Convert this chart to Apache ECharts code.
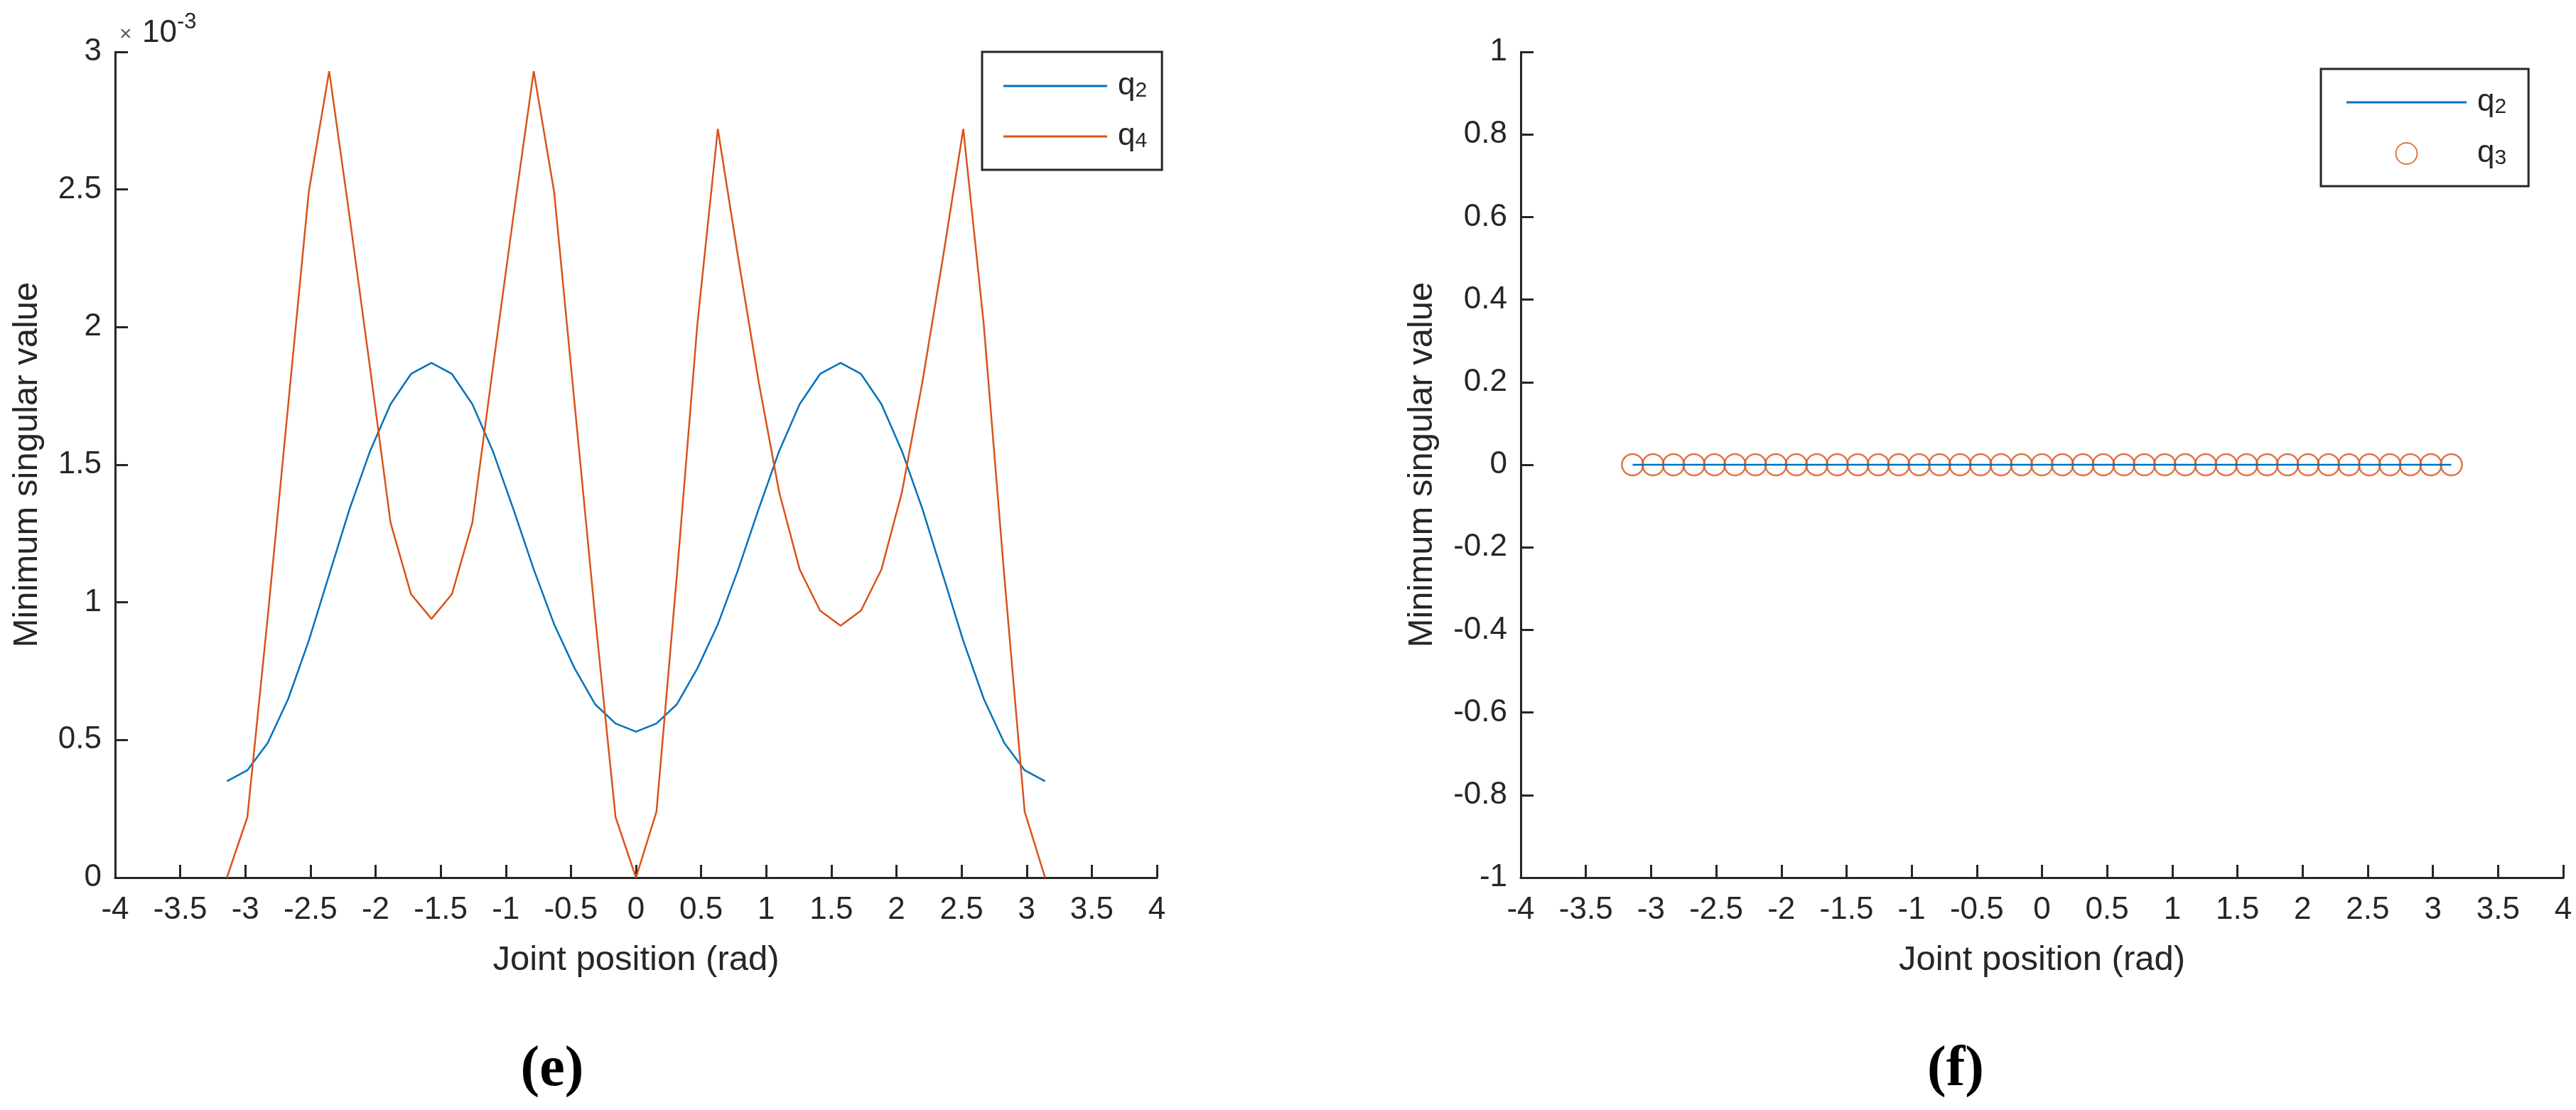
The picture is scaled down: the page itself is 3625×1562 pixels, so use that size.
<!DOCTYPE html>
<html>
<head>
<meta charset="utf-8">
<script src="https://cdn.jsdelivr.net/npm/echarts@6/dist/echarts.min.js"></script>
<style>
  html, body { margin: 0; padding: 0; background: #fff; }
  #chart { width: 3625px; height: 1562px; }
</style>
</head>
<body>
<div id="chart"></div>
<script>
// joint position samples (rad), -pi .. pi, 41 points
const jointPos = [
  -3.1416, -2.9845, -2.8274, -2.6704, -2.5133, -2.3562, -2.1991, -2.0420, -1.8850, -1.7279,
  -1.5708, -1.4137, -1.2566, -1.0996, -0.9425, -0.7854, -0.6283, -0.4712, -0.3142, -0.1571,
  0,
  0.1571, 0.3142, 0.4712, 0.6283, 0.7854, 0.9425, 1.0996, 1.2566, 1.4137, 1.5708,
  1.7279, 1.8850, 2.0420, 2.1991, 2.3562, 2.5133, 2.6704, 2.8274, 2.9845, 3.1416
];

// panel (e): minimum singular value, in units of 1e-3
const q2Sv = [
  0.35, 0.39, 0.49, 0.65, 0.86, 1.10, 1.34, 1.55, 1.72, 1.83,
  1.87, 1.83, 1.72, 1.55, 1.34, 1.12, 0.92, 0.76, 0.63, 0.56,
  0.53,
  0.56, 0.63, 0.76, 0.92, 1.12, 1.34, 1.55, 1.72, 1.83, 1.87,
  1.83, 1.72, 1.55, 1.34, 1.10, 0.86, 0.65, 0.49, 0.39, 0.35
];
const q4Sv = [
  0, 0.22, 0.95, 1.72, 2.49, 2.93, 2.40, 1.85, 1.29, 1.03,
  0.94, 1.03, 1.29, 1.85, 2.40, 2.93, 2.49, 1.72, 0.95, 0.22,
  0,
  0.24, 1.10, 2.01, 2.72, 2.25, 1.80, 1.40, 1.12, 0.97, 0.915,
  0.97, 1.12, 1.40, 1.80, 2.25, 2.72, 2.01, 1.10, 0.24, 0
];

// panel (f): both joints give zero everywhere
const q2SvF = [
  0, 0, 0, 0, 0, 0, 0, 0, 0, 0,
  0, 0, 0, 0, 0, 0, 0, 0, 0, 0,
  0,
  0, 0, 0, 0, 0, 0, 0, 0, 0, 0,
  0, 0, 0, 0, 0, 0, 0, 0, 0, 0
];
const q3SvF = [
  0, 0, 0, 0, 0, 0, 0, 0, 0, 0,
  0, 0, 0, 0, 0, 0, 0, 0, 0, 0,
  0,
  0, 0, 0, 0, 0, 0, 0, 0, 0, 0,
  0, 0, 0, 0, 0, 0, 0, 0, 0, 0
];

const BLUE = "#0072BD";
const ORANGE = "#D95319";
const INK = "#262626";
const FONT = "Liberation Sans, Arial, Helvetica, sans-serif";
const SERIF = "Liberation Serif, Times New Roman, serif";
// flat bar used as the legend icon for plain lines
const LINE_ICON = "path://M0,0 L146,0 L146,3 L0,3 Z";

const pairs = (xs, ys) => xs.map((x, i) => [x, ys[i]]);

const xAxisCommon = {
  type: "value",
  min: -4,
  max: 4,
  interval: 0.5,
  name: "Joint position (rad)",
  nameLocation: "middle",
  nameGap: 92,
  nameTextStyle: { color: INK, fontFamily: FONT, fontSize: 49 },
  axisLine: { onZero: false, lineStyle: { color: INK, width: 3 } },
  axisTick: { inside: true, length: 18, lineStyle: { color: INK, width: 3 } },
  axisLabel: { color: INK, fontFamily: FONT, fontSize: 44, margin: 24 },
  splitLine: { show: false },
};

const yAxisCommon = {
  type: "value",
  name: "Minimum singular value",
  nameLocation: "middle",
  nameRotate: 90,
  nameTextStyle: { color: INK, fontFamily: FONT, fontSize: 49 },
  axisLine: { show: true, onZero: false, lineStyle: { color: INK, width: 3 } },
  axisTick: { show: true, inside: true, length: 18, lineStyle: { color: INK, width: 3 } },
  axisLabel: { color: INK, fontFamily: FONT, fontSize: 44, margin: 19 },
  splitLine: { show: false },
};

const legendCommon = {
  orient: "vertical",
  itemWidth: 146,
  itemHeight: 30,
  backgroundColor: "#fff",
  borderColor: INK,
  borderWidth: 3,
  borderRadius: 0,
  selectedMode: false,
  formatter: (name) => "{q|q}{s|" + name.slice(1) + "}",
  textStyle: {
    rich: {
      q: { fontFamily: FONT, fontSize: 44, color: INK, padding: [0, 0, 0, 10], verticalAlign: "top", lineHeight: 44 },
      s: { fontFamily: FONT, fontSize: 30, color: INK, verticalAlign: "bottom", lineHeight: 30 },
    },
  },
};

const chart = echarts.init(document.getElementById("chart"), null, { renderer: "canvas" });

const option = {
  animation: false,
  backgroundColor: "#fff",
  grid: [
    { left: 162, top: 73, width: 1466, height: 1162 },
    { left: 2140, top: 73, width: 1467, height: 1162 },
  ],
  xAxis: [
    Object.assign({}, xAxisCommon, { gridIndex: 0 }),
    Object.assign({}, xAxisCommon, { gridIndex: 1 }),
  ],
  yAxis: [
    Object.assign({}, yAxisCommon, { gridIndex: 0, min: 0, max: 3, interval: 0.5, nameGap: 99 }),
    Object.assign({}, yAxisCommon, { gridIndex: 1, min: -1, max: 1, interval: 0.2, nameGap: 114 }),
  ],
  legend: [
    Object.assign({}, legendCommon, {
      left: 1382, top: 73,
      padding: [26, 21, 25, 30],
      itemGap: 27,
      data: [{ name: "q2", icon: LINE_ICON }, { name: "q4", icon: LINE_ICON }],
    }),
    Object.assign({}, legendCommon, {
      left: 3266, top: 97,
      itemWidth: 169,
      padding: [25, 31, 24, 36],
      itemGap: 28,
      data: [{ name: "q2", icon: "path://M0,0 L169,0 L169,3 L0,3 Z" }, { name: "q3" }],
    }),
  ],
  graphic: [
    { type: "text", x: 168, y: 64, style: { text: "×", font: "30px " + FONT, fill: "#5a5a5a", textVerticalAlign: "bottom" } },
    { type: "text", x: 200, y: 69, style: { text: "10", font: "44px " + FONT, fill: INK, textVerticalAlign: "bottom" } },
    { type: "text", x: 249, y: 47, style: { text: "-3", font: "31px " + FONT, fill: INK, textVerticalAlign: "bottom" } },
    { type: "text", x: 777, y: 1506, style: { text: "(e)", font: "bold 80px " + SERIF, fill: "#000", textAlign: "center", textVerticalAlign: "middle" } },
    { type: "text", x: 2752, y: 1506, style: { text: "(f)", font: "bold 80px " + SERIF, fill: "#000", textAlign: "center", textVerticalAlign: "middle" } },
  ],
  series: [
    {
      name: "q2", type: "line", xAxisIndex: 0, yAxisIndex: 0,
      data: pairs(jointPos, q2Sv), symbol: "none",
      lineStyle: { color: BLUE, width: 2.5 }, itemStyle: { color: BLUE },
    },
    {
      name: "q4", type: "line", xAxisIndex: 0, yAxisIndex: 0,
      data: pairs(jointPos, q4Sv), symbol: "none",
      lineStyle: { color: ORANGE, width: 2.5 }, itemStyle: { color: ORANGE },
    },
    {
      name: "q2", type: "line", xAxisIndex: 1, yAxisIndex: 1,
      data: pairs(jointPos, q2SvF), symbol: "none",
      lineStyle: { color: BLUE, width: 2.5 }, itemStyle: { color: BLUE },
    },
    {
      name: "q3", type: "scatter", xAxisIndex: 1, yAxisIndex: 1,
      data: pairs(jointPos, q3SvF), symbol: "circle", symbolSize: 30,
      itemStyle: { color: "rgba(0,0,0,0)", borderColor: ORANGE, borderWidth: 2.5 },
    },
  ],
};

chart.setOption(option);
</script>
</body>
</html>
